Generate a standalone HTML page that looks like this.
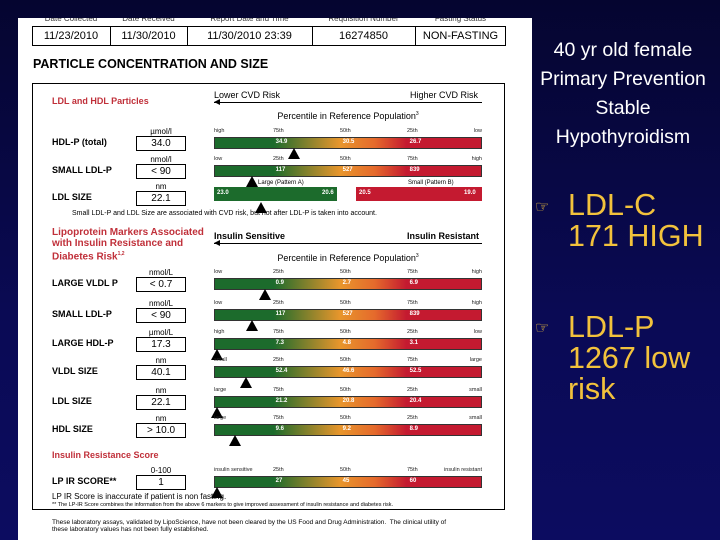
<!DOCTYPE html>
<html><head><meta charset="utf-8">
<style>
*{margin:0;padding:0;box-sizing:border-box}
body{width:720px;height:540px;overflow:hidden;background:linear-gradient(180deg,#050530 0%,#0a0a55 60%,#0c0c60 100%);font-family:"Liberation Sans",sans-serif;position:relative}
.a{position:absolute;white-space:nowrap}
#rep{position:absolute;left:18px;top:18px;width:514px;height:522px;background:#fff;overflow:hidden}
.red{color:#c0303a;font-weight:bold}
.bx{position:absolute;border:1px solid #000;background:#fff;text-align:center;font-size:10px;line-height:13px}
.bar{position:absolute;height:12px;border:1px solid #333;background:linear-gradient(90deg,#1c6b2c 0%,#1c6b2c 22%,#e8962c 47%,#e56a2c 60%,#c41a30 72%,#c41a30 100%)}
.tri{position:absolute;width:0;height:0;border-left:6px solid transparent;border-right:6px solid transparent;border-bottom:11px solid #000}
.tk{position:absolute;font-size:5.5px;color:#222}
.bv{position:absolute;font-size:6px;color:#fff;font-weight:bold}
.rt{position:absolute;color:#fff;font-size:19.5px;width:190px;text-align:center;left:528px}
.yt{position:absolute;color:#f2c23c;font-size:30.5px;left:568px;line-height:31px}
.hl{position:absolute;top:-4px;font-size:8px;color:#333;text-align:center}
</style></head><body>
<div id="rep">
<div class="hl" style="left:14px;width:78px">Date Collected</div>
<div class="hl" style="left:92px;width:77px">Date Received</div>
<div class="hl" style="left:169px;width:125px">Report Date and Time</div>
<div class="hl" style="left:294px;width:103px">Requisition Number</div>
<div class="hl" style="left:397px;width:91px">Fasting Status</div>
<div class="a" style="left:14px;top:8px;width:474px;height:20px;border:1px solid #000"></div>
<div class="a" style="left:92px;top:8px;width:1px;height:20px;background:#000"></div>
<div class="a" style="left:169px;top:8px;width:1px;height:20px;background:#000"></div>
<div class="a" style="left:294px;top:8px;width:1px;height:20px;background:#000"></div>
<div class="a" style="left:397px;top:8px;width:1px;height:20px;background:#000"></div>
<div class="a" style="left:14px;top:12px;width:78px;text-align:center;font-size:11px">11/23/2010</div>
<div class="a" style="left:92px;top:12px;width:77px;text-align:center;font-size:11px">11/30/2010</div>
<div class="a" style="left:169px;top:12px;width:125px;text-align:center;font-size:11px">11/30/2010 23:39</div>
<div class="a" style="left:294px;top:12px;width:103px;text-align:center;font-size:11px">16274850</div>
<div class="a" style="left:397px;top:12px;width:91px;text-align:center;font-size:11px">NON-FASTING</div>
<div class="a" style="left:15px;top:39px;font-size:12.5px;font-weight:bold">PARTICLE CONCENTRATION AND SIZE</div>
<div class="a" style="left:14px;top:65px;width:473px;height:427px;border:1px solid #000"></div>
<div class="a red" style="left:34px;top:78px;font-size:9px">LDL and HDL Particles</div>
<div class="a" style="left:196px;top:72px;font-size:9px">Lower CVD Risk</div>
<div class="a" style="left:392px;top:72px;font-size:9px">Higher CVD Risk</div>
<div class="a" style="left:196px;top:84px;width:268px;height:1px;background:#000"></div>
<div class="a" style="left:196px;top:81px;border-top:3px solid transparent;border-bottom:3px solid transparent;border-right:6px solid #000"></div>
<div class="a" style="left:196px;top:93px;width:268px;text-align:center;font-size:9px">Percentile in Reference Population<sup style="font-size:5px">3</sup></div>
<div class="a" style="left:196px;top:169px;width:123px;height:14px;background:#1c6b2c"></div>
<div class="a" style="left:338px;top:169px;width:126px;height:14px;background:#c41a30"></div>
<div class="a" style="left:240px;top:162px;font-size:6px">Large (Pattern A)</div>
<div class="a" style="left:390px;top:162px;font-size:6px">Small (Pattern B)</div>
<div class="bv" style="left:199px;top:172px">23.0</div>
<div class="bv" style="left:304px;top:172px">20.6</div>
<div class="bv" style="left:341px;top:172px">20.5</div>
<div class="bv" style="left:446px;top:172px">19.0</div>
<div class="a" style="left:54px;top:192px;font-size:7px">Small LDL-P and LDL Size are associated with CVD risk, but not after LDL-P is taken into account.</div>
<div class="a red" style="left:34px;top:209px;font-size:10px;line-height:11px">Lipoprotein Markers Associated<br>with Insulin Resistance and<br>Diabetes Risk<sup style="font-size:5px">1,2</sup></div>
<div class="a" style="left:196px;top:213px;font-size:9px;font-weight:bold">Insulin Sensitive</div>
<div class="a" style="left:389px;top:213px;font-size:9px;font-weight:bold">Insulin Resistant</div>
<div class="a" style="left:196px;top:225px;width:268px;height:1px;background:#000"></div>
<div class="a" style="left:196px;top:222px;border-top:3px solid transparent;border-bottom:3px solid transparent;border-right:6px solid #000"></div>
<div class="a" style="left:196px;top:235px;width:268px;text-align:center;font-size:9px">Percentile in Reference Population<sup style="font-size:5px">3</sup></div>
<div class="a red" style="left:34px;top:432px;font-size:9px">Insulin Resistance Score</div>
<div class="a" style="left:34px;top:474px;font-size:8px">LP IR Score is inaccurate if patient is non fasting.</div>
<div class="a" style="left:34px;top:484px;font-size:5.5px">** The LP-IR Score combines the information from the above 6 markers to give improved assessment of insulin resistance and diabetes risk.</div>
<div class="a" style="left:34px;top:501px;font-size:6.5px;line-height:7px">These laboratory assays, validated by LipoScience, have not been cleared by the US Food and Drug Administration.&nbsp; The clinical utility of<br>these laboratory values has not been fully established.</div>
<div id="rows"></div>
</div>

<div class="rt" style="top:39px">40 yr old female</div>
<div class="rt" style="top:68px">Primary Prevention</div>
<div class="rt" style="top:97px">Stable</div>
<div class="rt" style="top:126px">Hypothyroidism</div>
<div class="a" style="left:535px;top:197px;color:#f2c23c;font-size:16px">☞</div>
<div class="yt" style="top:190px">LDL-C<br>171 HIGH</div>
<div class="a" style="left:535px;top:318px;color:#f2c23c;font-size:16px">☞</div>
<div class="yt" style="top:312px">LDL-P<br>1267 low<br>risk</div>

<script>
const labels=["HDL-P (total)","SMALL LDL-P","LDL SIZE","LARGE VLDL P","SMALL LDL-P","LARGE HDL-P","VLDL SIZE","LDL SIZE","HDL SIZE","LP IR SCORE**"];
const units=["µmol/l","nmol/l","nm","nmol/L","nmol/L","µmol/L","nm","nm","nm","0-100"];
const results=["34.0","< 90","22.1","< 0.7","< 90","17.3","40.1","22.1","> 10.0","1"];
const markerPos=[0.30,0.14,0.175,0.19,0.14,0.01,0.12,0.01,0.08,0.01];
const barVals=[["34.9","30.5","26.7"],["117","527","839"],null,["0.9","2.7","6.9"],["117","527","839"],["7.3","4.8","3.1"],["52.4","46.6","52.5"],["21.2","20.8","20.4"],["9.6","9.2","8.9"],["27","45","60"]];
const tickLabels=[["high","75th","50th","25th","low"],["low","25th","50th","75th","high"],null,["low","25th","50th","75th","high"],["low","25th","50th","75th","high"],["high","75th","50th","25th","low"],["small","25th","50th","75th","large"],["large","75th","50th","25th","small"],["large","75th","50th","25th","small"],["insulin sensitive","25th","50th","75th","insulin resistant"]];
const rowY=[118,146,173,259,290,319,347,377,405,457];
const X0=196,W=268;
const xs=f=>X0+f*W;
const host=document.getElementById('rows');
function mk(cls,style,txt){const d=document.createElement('div');d.className=cls;d.style.cssText=style;if(txt!==undefined)d.textContent=txt;host.appendChild(d);return d;}
labels.forEach((l,i)=>{
  const y=rowY[i];
  const lab=mk('a',`left:34px;top:${y+1}px;font-size:9px;font-weight:bold`,l);
  
  
  mk('a',`left:118px;top:${y-9}px;width:50px;text-align:center;font-size:8px`,units[i]);
  const b=mk('bx',`left:118px;top:${y}px;width:50px;height:15px`,results[i]);
  
  
  if(barVals[i]){
    tickLabels[i].forEach((t,k)=>{
      const st=k==0?`left:${xs(0)}px`:k==4?`left:${xs(1)-60}px;width:60px;text-align:right`:`left:${xs(k*0.25-0.03)}px`;
      mk('tk',`${st};top:${y-8}px`,t);
    });
    const bar=mk('bar',`left:${X0}px;top:${y+1}px;width:${W}px`);
    
    
    barVals[i].forEach((v,k)=>{mk('bv',`left:${xs((k+1)*0.25-0.02)}px;top:${y+3}px`,v);});
  }
  const ty=i==2?y+11:y+12;
  const t=mk('tri',`left:${xs(markerPos[i])-6}px;top:${ty}px`);
  
  
});
</script>
</body></html>
